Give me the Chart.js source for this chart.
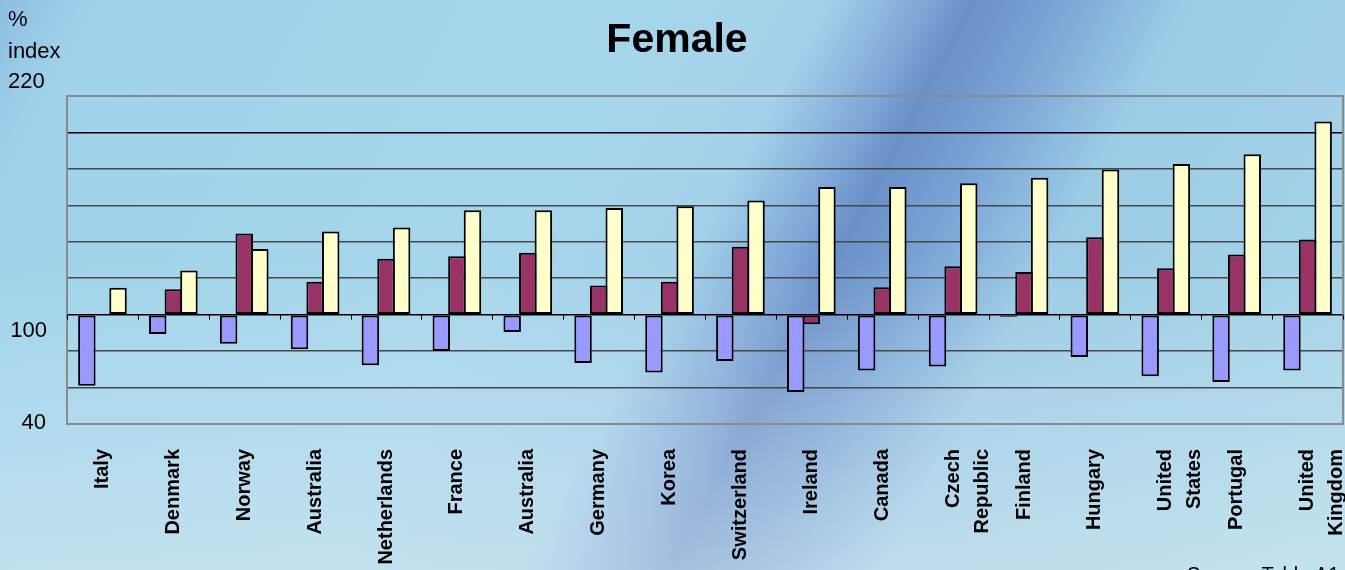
<!DOCTYPE html>
<html>
<head>
<meta charset="utf-8">
<title>Female</title>
<script src="https://cdn.jsdelivr.net/npm/chart.js@4/dist/chart.umd.min.js"></script>
<style>
  html, body { margin: 0; padding: 0; }
  body {
    width: 1345px; height: 570px; overflow: hidden;
    background:
      linear-gradient(to bottom, rgba(225,238,244,0) 0%, rgba(225,238,244,0) 45%, rgba(222,236,243,0.5) 100%),
      linear-gradient(118deg, #8fbde0 0%, #9fd3ea 6%, #a6d6ec 38%, #a4d2ea 50%, #80a8d8 56%, #6a90c8 59%, #78a2d4 64%, #9ccbe6 72%, #a8d8ea 100%);
  }
  #wrap { position: relative; width: 1345px; height: 570px; }
</style>
</head>
<body>
<div id="wrap"><canvas id="femaleCanvas" width="1345" height="570"></canvas></div>
<script>
// Categories and values (index, 100 = upper secondary).
const CATEGORIES = ['Italy', 'Denmark', 'Norway', 'Australia', 'Netherlands', 'France', 'Australia',
  'Germany', 'Korea', 'Switzerland', 'Ireland', 'Canada', ['Czech', 'Republic'], 'Finland',
  'Hungary', ['United', 'States'], 'Portugal', ['United', 'Kingdom']];

const BELOW_UPPER_SEC = [61, 89.4, 84, 81, 72.2, 80, 90.5, 73.5, 68.2, 74.6, 57.6, 69.3, 71.5, 98.8, 76.8, 66.2, 63, 69.3];
const TERTIARY_B      = [null, 114, 144.5, 118, 130.7, 132, 134, 116, 118, 137.3, 94.7, 115, 126.6, 123.4, 142.5, 125.5, 133, 141.3];
const TERTIARY_A      = [114.8, 124.3, 136, 145.6, 147.8, 157.3, 157.3, 158.6, 159.5, 162.6, 170, 170, 172.1, 175.2, 179.6, 182.7, 188, 206];

const Y_MIN = 40, Y_MAX = 220, Y_STEP = 20, BASE = 100;

const COL_BLUE   = '#9999ff';
const COL_MAROON = '#993366';
const COL_YELLOW = '#ffffcc';

Chart.defaults.font.family = "'Liberation Sans', Arial, sans-serif";
Chart.defaults.color = '#000';

// Frame + little category ticks on the 100 line
const framePlugin = {
  id: 'frame',
  beforeDatasetsDraw(chart) {
    const { ctx, chartArea: a, scales } = chart;
    ctx.save();
    ctx.strokeStyle = '#8a8a8a';
    ctx.lineWidth = 2;
    ctx.strokeRect(a.left, a.top, a.right - a.left, a.bottom - a.top);
    const y100 = scales.y.getPixelForValue(BASE);
    const step = (a.right - a.left) / CATEGORIES.length;
    ctx.strokeStyle = '#000';
    ctx.lineWidth = 1;
    for (let i = 0; i <= CATEGORIES.length; i++) {
      const x = Math.round(a.left + i * step) + 0.5;
      ctx.beginPath();
      ctx.moveTo(x, y100);
      ctx.lineTo(x, y100 + 5);
      ctx.stroke();
    }
    ctx.restore();
  }
};

// Free texts: title, axis caption, the three y labels, source line
const textPlugin = {
  id: 'texts',
  afterDraw(chart) {
    const { ctx, scales } = chart;
    ctx.save();
    ctx.fillStyle = '#000';
    ctx.textBaseline = 'alphabetic';

    ctx.font = "bold 41px 'Liberation Sans', Arial, sans-serif";
    ctx.textAlign = 'center';
    ctx.fillText('Female', 677, 52);

    ctx.font = "22px 'Liberation Sans', Arial, sans-serif";
    ctx.textAlign = 'left';
    ctx.fillText('%', 8, 26);
    ctx.fillText('index', 8, 58);
    ctx.fillText(String(Y_MAX), 8, scales.y.getPixelForValue(Y_MAX) - 8);

    ctx.textAlign = 'right';
    ctx.fillText(String(BASE), 47, scales.y.getPixelForValue(BASE) + 22);
    ctx.fillText(String(Y_MIN), 46, scales.y.getPixelForValue(Y_MIN) + 5);

    ctx.font = "20px 'Liberation Sans', Arial, sans-serif";
    ctx.textAlign = 'left';
    ctx.fillText('Source: Table A1', 1187, 581);
    ctx.restore();
  }
};

function gridColor(ctx) {
  const v = ctx.tick && ctx.tick.value;
  if (v === Y_MIN || v === Y_MAX) return 'rgba(0,0,0,0)';
  if (v === BASE || v === 200) return '#000';
  return '#474747';
}

// bars slightly wider than their slot so neighbours share one border line
function bars(label, data, color) {
  return {
    label: label,
    data: data,
    base: BASE,
    backgroundColor: color,
    borderColor: '#000',
    borderWidth: 2,
    borderSkipped: false,
    inflateAmount: 0,
    barPercentage: 1.12,
    categoryPercentage: 0.66
  };
}

function boot() {
  const el = document.getElementById('femaleCanvas');
  window.femaleChart = new Chart(el, {
    type: 'bar',
    data: {
      labels: CATEGORIES,
      datasets: [
        bars('Below upper secondary', BELOW_UPPER_SEC, COL_BLUE),
        bars('Tertiary-type B', TERTIARY_B, COL_MAROON),
        bars('Tertiary-type A', TERTIARY_A, COL_YELLOW)
      ]
    },
    options: {
      responsive: false,
      animation: false,
      layout: { padding: { top: 96, left: 67, right: 2, bottom: 0 } },
      plugins: { legend: { display: false }, title: { display: false }, tooltip: { enabled: false } },
      scales: {
        x: {
          grid: { display: false },
          border: { display: false },
          ticks: {
            autoSkip: false,
            minRotation: 90,
            maxRotation: 90,
            padding: 17,
            color: '#000',
            font: { size: 20, weight: 'bold', lineHeight: 1.45 }
          },
          afterFit(scale) {
            scale.height = 146;
            scale.paddingLeft = 0;
            scale.paddingRight = 0;
          }
        },
        y: {
          min: Y_MIN,
          max: Y_MAX,
          ticks: { stepSize: Y_STEP, display: false },
          border: { display: false },
          grid: { color: gridColor, lineWidth: 1.5, drawTicks: false },
          afterFit(scale) {
            scale.width = 0;
            scale.paddingTop = 0;
            scale.paddingBottom = 0;
          }
        }
      }
    },
    plugins: [framePlugin, textPlugin]
  });
}

if (document.readyState === 'loading') {
  document.addEventListener('DOMContentLoaded', boot);
} else {
  boot();
}
</script>
</body>
</html>
